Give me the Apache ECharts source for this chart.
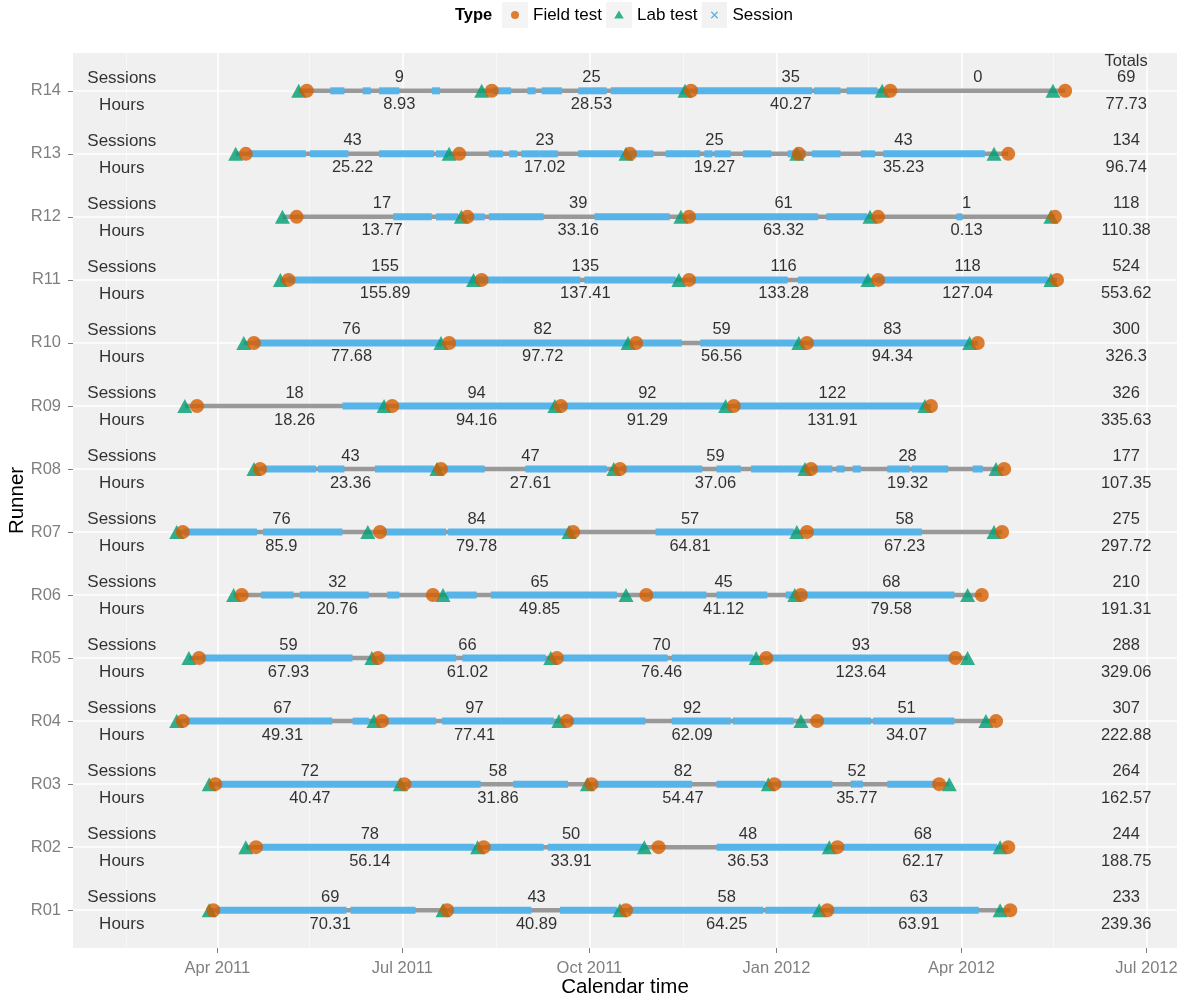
<!DOCTYPE html>
<html><head><meta charset="utf-8">
<script src="https://cdn.jsdelivr.net/npm/echarts@6/dist/echarts.min.js"></script>
<style>html,body{margin:0;padding:0;background:#fff}#chart{width:1187px;height:1001px}</style>
</head><body><div id="chart"></div>
<script>
// ---------------- data (index 0 = R01 ... 13 = R14) ----------------
const runners = ['R01','R02','R03','R04','R05','R06','R07','R08','R09','R10','R11','R12','R13','R14'];

const labTests = [
  ['2011-03-28','2011-07-21','2011-10-16','2012-01-22','2012-04-20'],
  ['2011-04-15','2011-08-07','2011-10-28','2012-01-27','2012-04-20'],
  ['2011-03-28','2011-06-30','2011-09-30','2011-12-28','2012-03-26'],
  ['2011-03-12','2011-06-17','2011-09-16','2012-01-13','2012-04-13'],
  ['2011-03-18','2011-06-16','2011-09-12','2011-12-22','2012-04-04'],
  ['2011-04-09','2011-07-21','2011-10-19','2012-01-10','2012-04-04'],
  ['2011-03-12','2011-06-14','2011-09-21','2012-01-11','2012-04-17'],
  ['2011-04-19','2011-07-18','2011-10-13','2012-01-15','2012-04-18'],
  ['2011-03-16','2011-06-22','2011-09-14','2011-12-07','2012-03-14'],
  ['2011-04-14','2011-07-20','2011-10-20','2012-01-12','2012-04-05'],
  ['2011-05-02','2011-08-05','2011-11-14','2012-02-15','2012-05-15'],
  ['2011-05-03','2011-07-30','2011-11-15','2012-02-16','2012-05-15'],
  ['2011-04-10','2011-07-24','2011-10-19','2012-01-11','2012-04-17'],
  ['2011-05-11','2011-08-09','2011-11-17','2012-02-22','2012-05-16']
];

const fieldTests = [
  ['2011-03-30','2011-07-23','2011-10-19','2012-01-26','2012-04-25'],
  ['2011-04-20','2011-08-10','2011-11-04','2012-01-31','2012-04-24'],
  ['2011-03-31','2011-07-02','2011-10-02','2011-12-31','2012-03-21'],
  ['2011-03-15','2011-06-21','2011-09-20','2012-01-21','2012-04-18'],
  ['2011-03-23','2011-06-19','2011-09-15','2011-12-27','2012-03-29'],
  ['2011-04-13','2011-07-16','2011-10-29','2012-01-13','2012-04-11'],
  ['2011-03-15','2011-06-20','2011-09-23','2012-01-16','2012-04-21'],
  ['2011-04-22','2011-07-20','2011-10-16','2012-01-18','2012-04-22'],
  ['2011-03-22','2011-06-26','2011-09-17','2011-12-11','2012-03-17'],
  ['2011-04-19','2011-07-24','2011-10-24','2012-01-16','2012-04-09'],
  ['2011-05-06','2011-08-09','2011-11-19','2012-02-20','2012-05-18'],
  ['2011-05-10','2011-08-02','2011-11-19','2012-02-20','2012-05-17'],
  ['2011-04-15','2011-07-29','2011-10-21','2012-01-12','2012-04-24'],
  ['2011-05-15','2011-08-14','2011-11-20','2012-02-26','2012-05-22']
];

// spans of days on which training sessions were logged
const sessionSpans = [
  [['2011-04-02','2011-06-02'],['2011-06-07','2011-07-06'],['2011-07-26','2011-09-01'],['2011-09-18','2011-10-13'],['2011-10-22','2011-12-24'],['2011-12-28','2012-01-20'],['2012-01-29','2012-04-08']],
  [['2011-04-24','2011-08-04'],['2011-08-14','2011-09-07'],['2011-09-12','2011-10-26'],['2011-12-04','2012-01-25'],['2012-02-04','2012-04-17']],
  [['2011-04-03','2011-05-13'],['2011-05-16','2011-06-28'],['2011-07-05','2011-08-07'],['2011-08-26','2011-09-19'],['2011-10-05','2011-11-19'],['2011-12-04','2011-12-25'],['2012-01-03','2012-01-27'],['2012-02-08','2012-02-08'],['2012-02-11','2012-02-11'],['2012-02-26','2012-03-18']],
  [['2011-03-18','2011-05-26'],['2011-06-08','2011-06-13'],['2011-06-24','2011-07-16'],['2011-07-22','2011-09-12'],['2011-09-23','2011-10-27'],['2011-11-12','2011-12-08'],['2011-12-12','2012-01-08'],['2012-01-24','2012-02-15'],['2012-02-19','2012-03-27']],
  [['2011-03-26','2011-06-05'],['2011-06-21','2011-07-26'],['2011-08-01','2011-09-08'],['2011-09-19','2011-11-07'],['2011-11-12','2011-12-19'],['2011-12-30','2012-03-26']],
  [['2011-04-24','2011-05-07'],['2011-05-13','2011-06-13'],['2011-06-25','2011-06-28'],['2011-07-24','2011-08-05'],['2011-08-15','2011-10-13'],['2011-11-01','2011-11-26'],['2011-12-04','2011-12-26'],['2012-01-07','2012-03-27']],
  [['2011-03-17','2011-04-19'],['2011-04-25','2011-05-31'],['2011-06-23','2011-07-21'],['2011-07-25','2011-09-19'],['2011-11-04','2012-01-08'],['2012-01-20','2012-03-11']],
  [['2011-04-25','2011-05-18'],['2011-05-22','2011-06-01'],['2011-06-19','2011-07-15'],['2011-07-23','2011-08-09'],['2011-09-01','2011-10-08'],['2011-10-19','2011-11-19'],['2011-11-22','2011-11-24'],['2011-12-04','2011-12-13'],['2011-12-21','2012-01-15'],['2012-01-20','2012-01-27'],['2012-02-01','2012-02-02'],['2012-02-09','2012-02-10'],['2012-02-26','2012-03-05'],['2012-03-09','2012-03-24'],['2012-04-08','2012-04-10']],
  [['2011-06-03','2011-06-21'],['2011-06-30','2011-09-12'],['2011-09-19','2011-12-05'],['2011-12-14','2012-03-12']],
  [['2011-04-21','2011-07-19'],['2011-07-27','2011-10-19'],['2011-10-27','2011-11-14'],['2011-11-26','2012-01-10'],['2012-01-19','2012-04-03']],
  [['2011-05-07','2011-09-25'],['2011-09-30','2011-11-11'],['2011-11-22','2012-01-05'],['2012-01-13','2012-02-14'],['2012-02-21','2012-05-12']],
  [['2011-06-28','2011-07-14'],['2011-07-19','2011-07-27'],['2011-08-04','2011-08-09'],['2011-08-14','2011-09-07'],['2011-10-05','2011-11-08'],['2011-11-21','2012-01-20'],['2012-01-27','2012-02-13'],['2012-03-31','2012-03-31']],
  [['2011-04-18','2011-05-13'],['2011-05-18','2011-06-03'],['2011-06-21','2011-07-15'],['2011-07-19','2011-07-22'],['2011-08-14','2011-08-18'],['2011-08-24','2011-08-25'],['2011-08-30','2011-09-05'],['2011-09-08','2011-09-14'],['2011-09-27','2011-10-16'],['2011-10-22','2011-10-31'],['2011-11-09','2011-11-23'],['2011-11-28','2011-11-29'],['2011-12-03','2011-12-08'],['2011-12-17','2011-12-28'],['2012-01-08','2012-01-14'],['2012-01-20','2012-01-31'],['2012-02-13','2012-02-17'],['2012-02-24','2012-04-11']],
  [['2011-05-28','2011-06-01'],['2011-06-13','2011-06-14'],['2011-06-21','2011-06-28'],['2011-07-17','2011-07-18'],['2011-08-16','2011-08-22'],['2011-09-02','2011-09-03'],['2011-09-09','2011-09-16'],['2011-09-27','2011-10-08'],['2011-10-13','2011-11-16'],['2011-11-23','2012-01-17'],['2012-01-21','2012-01-31'],['2012-02-06','2012-02-18']]
];

const segSessions = [
  [69,43,58,63],[78,50,48,68],[72,58,82,52],[67,97,92,51],[59,66,70,93],
  [32,65,45,68],[76,84,57,58],[43,47,59,28],[18,94,92,122],[76,82,59,83],
  [155,135,116,118],[17,39,61,1],[43,23,25,43],[9,25,35,0]
];
const segHours = [
  [70.31,40.89,64.25,63.91],[56.14,33.91,36.53,62.17],[40.47,31.86,54.47,35.77],[49.31,77.41,62.09,34.07],[67.93,61.02,76.46,123.64],
  [20.76,49.85,41.12,79.58],[85.9,79.78,64.81,67.23],[23.36,27.61,37.06,19.32],[18.26,94.16,91.29,131.91],[77.68,97.72,56.56,94.34],
  [155.89,137.41,133.28,127.04],[13.77,33.16,63.32,0.13],[25.22,17.02,19.27,35.23],[8.93,28.53,40.27,null]
];
const totalSessions = [233,244,264,307,288,210,275,177,326,300,524,118,134,69];
const totalHours = [239.36,188.75,162.57,222.88,329.06,191.31,297.72,107.35,335.63,326.3,553.62,110.38,96.74,77.73];

const tickDates  = ['2011-04-01','2011-07-01','2011-10-01','2012-01-01','2012-04-01','2012-07-01'];
const tickLabels = ['Apr 2011','Jul 2011','Oct 2011','Jan 2012','Apr 2012','Jul 2012'];
const minorDates = ['2011-02-15','2011-05-16','2011-08-16','2011-11-16','2012-02-15','2012-05-16'];
const X_MIN = '2011-01-20', X_MAX = '2012-07-16';
const ROW_LABEL_DATE = '2011-02-13';
const TOTALS_DATE = '2012-06-21';

// ---------------- helpers ----------------
function ts(s){ const p = s.split('-').map(Number); return new Date(p[0], p[1]-1, p[2]).getTime(); }
const FONT = '"Liberation Sans", Arial, Helvetica, sans-serif';
const rowOf = i => i + 1;

const tickTs = tickDates.map(ts);
const rowValues = runners.map((r, i) => rowOf(i));

const trackData = runners.map((r, i) => {
  const all = labTests[i].concat(fieldTests[i]).map(ts);
  return [rowOf(i), Math.min.apply(null, all), Math.max.apply(null, all)];
});
const sessionData = [];
sessionSpans.forEach((spans, i) => spans.forEach(s => sessionData.push([rowOf(i), ts(s[0]), ts(s[1])])));
const labData = [], fieldData = [];
labTests.forEach((a, i) => a.forEach(d => labData.push([ts(d), rowOf(i)])));
fieldTests.forEach((a, i) => a.forEach(d => fieldData.push([ts(d), rowOf(i)])));

const sessText = [], hourText = [];
fieldTests.forEach((f, i) => {
  for (let k = 0; k < f.length - 1; k++) {
    const x = (ts(f[k]) + ts(f[k+1])) / 2;
    sessText.push({ value: [x, rowOf(i)], txt: String(segSessions[i][k]) });
    if (segHours[i][k] !== null) hourText.push({ value: [x, rowOf(i)], txt: String(segHours[i][k]) });
  }
  sessText.push({ value: [ts(TOTALS_DATE), rowOf(i)], txt: String(totalSessions[i]) });
  hourText.push({ value: [ts(TOTALS_DATE), rowOf(i)], txt: String(totalHours[i]) });
  sessText.push({ value: [ts(ROW_LABEL_DATE), rowOf(i)], txt: 'Sessions', label: { fontSize: 17 } });
  hourText.push({ value: [ts(ROW_LABEL_DATE), rowOf(i)], txt: 'Hours', label: { fontSize: 17 } });
});
const headerText = [{ value: [ts(TOTALS_DATE), runners.length], txt: 'Totals' }];

function keyIcon(inner){
  return 'image://data:image/svg+xml;charset=utf-8,' + encodeURIComponent(
    '<svg xmlns="http://www.w3.org/2000/svg" width="26" height="26"><rect width="26" height="26" fill="#F2F2F2"/>' + inner + '</svg>');
}

function textSeries(data, offsetY){
  return {
    type: 'scatter', data: data, symbolSize: 1, z: 8, silent: true,
    itemStyle: { color: 'rgba(0,0,0,0)' },
    label: { show: true, position: 'inside', offset: [0, offsetY], formatter: p => p.data.txt,
             fontSize: 16.5, color: '#000', fontFamily: FONT }
  };
}

const gridLines = []
  .concat(minorDates.map(d => ({ xAxis: ts(d), lineStyle: { color: '#FAFAFA', width: 0.8, type: 'solid' } })))
  .concat(tickDates.map(d => ({ xAxis: ts(d), lineStyle: { color: '#FFFFFF', width: 1.6, type: 'solid' } })))
  .concat(rowValues.map(v => ({ yAxis: v, lineStyle: { color: '#FFFFFF', width: 1.6, type: 'solid' } })));

const chart = echarts.init(document.getElementById('chart'), null, { renderer: 'canvas' });
chart.setOption({
  animation: false,
  textStyle: { fontFamily: FONT },
  grid: { left: 73, right: 10, top: 53, bottom: 53, show: true, backgroundColor: '#F0F0F0', borderWidth: 0,
          containLabel: false, outerBoundsMode: 'none' },
  legend: {
    left: 502, top: 2, padding: 0, itemWidth: 26, itemHeight: 26, itemGap: 4, selectedMode: false,
    textStyle: { fontSize: 17, color: '#000', fontFamily: FONT },
    data: [
      { name: 'Field test', icon: keyIcon('<circle cx="13" cy="13" r="4" fill="#D55E00"/>') },
      { name: 'Lab test', icon: keyIcon('<polygon points="13,8.5 17.8,16.5 8.2,16.5" fill="#009E73"/>') },
      { name: 'Session', icon: keyIcon('<path d="M9.8,9.8L16.2,16.2M16.2,9.8L9.8,16.2" stroke="#56B4E9" stroke-width="1.3"/>') }
    ]
  },
  graphic: [{ type: 'text', left: 455, top: 7, style: { text: 'Type', font: 'bold 16.5px ' + FONT, fill: '#000' } }],
  xAxis: {
    type: 'value', min: ts(X_MIN), max: ts(X_MAX),
    name: 'Calendar time', nameLocation: 'middle', nameGap: 29, nameMoveOverlap: false,
    nameTextStyle: { fontSize: 20.5, color: '#000', fontFamily: FONT },
    axisLine: { show: false },
    axisTick: { show: true, customValues: tickTs, length: 5, lineStyle: { color: '#7F7F7F', width: 1 } },
    axisLabel: { customValues: tickTs, color: '#7F7F7F', fontSize: 16.5, margin: 12, fontFamily: FONT,
                 formatter: v => { const k = tickTs.indexOf(v); return k >= 0 ? tickLabels[k] : ''; } },
    splitLine: { show: false }
  },
  yAxis: {
    type: 'value', min: 0.4, max: 14.6,
    name: 'Runner', nameLocation: 'middle', nameGap: 45, nameRotate: 90, nameMoveOverlap: false,
    nameTextStyle: { fontSize: 20.5, color: '#000', fontFamily: FONT },
    axisLine: { show: false },
    axisTick: { show: true, customValues: rowValues, length: 5, lineStyle: { color: '#7F7F7F', width: 1 } },
    axisLabel: { customValues: rowValues, color: '#7F7F7F', fontSize: 16.5, margin: 12, fontFamily: FONT,
                 formatter: v => runners[Math.round(v) - 1] || '' },
    splitLine: { show: false }
  },
  series: [
    { type: 'line', data: [], silent: true, z: 0,
      markLine: { silent: true, z: 0, symbol: 'none', label: { show: false }, animation: false, data: gridLines } },
    { type: 'custom', name: 'track', silent: true, z: 2, data: trackData,
      encode: { x: [1, 2], y: 0 },
      renderItem: (params, api) => {
        const a = api.coord([api.value(1), api.value(0)]);
        const b = api.coord([api.value(2), api.value(0)]);
        return { type: 'line', shape: { x1: a[0], y1: a[1], x2: b[0], y2: b[1] },
                 style: { stroke: '#999999', lineWidth: 4.5 } };
      } },
    { type: 'custom', name: 'Session', z: 3, data: sessionData, itemStyle: { color: '#56B4E9' },
      encode: { x: [1, 2], y: 0 },
      renderItem: (params, api) => {
        const a = api.coord([api.value(1), api.value(0)]);
        const b = api.coord([api.value(2), api.value(0)]);
        return { type: 'rect', shape: { x: a[0] - 3, y: a[1] - 3.5, width: (b[0] - a[0]) + 6, height: 7 },
                 style: { fill: '#56B4E9' } };
      } },
    { type: 'scatter', name: 'Lab test', z: 4, data: labData, symbol: 'triangle', symbolSize: [15, 14],
      itemStyle: { color: '#009E73', opacity: 0.8 } },
    { type: 'scatter', name: 'Field test', z: 5, data: fieldData, symbol: 'circle', symbolSize: 14,
      itemStyle: { color: '#D55E00', opacity: 0.8 } },
    textSeries(sessText, -13),
    textSeries(hourText, 14),
    textSeries(headerText, -29)
  ]
});
</script></body></html>
